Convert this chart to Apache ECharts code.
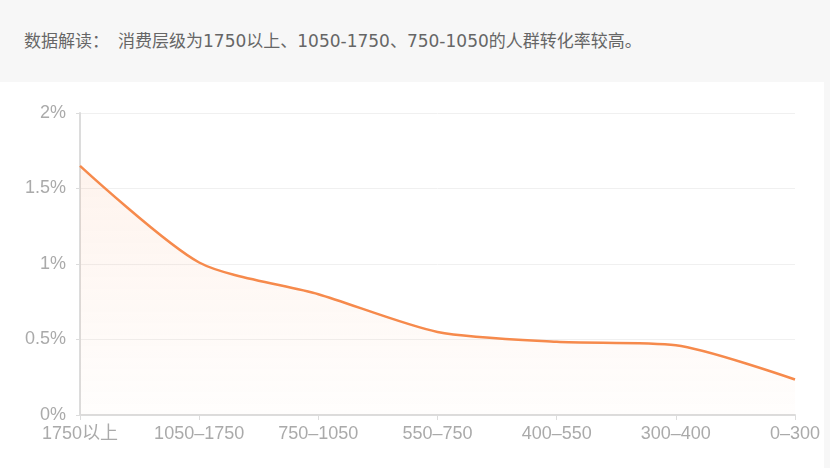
<!DOCTYPE html>
<html>
<head>
<meta charset="utf-8">
<script src="https://cdn.jsdelivr.net/npm/echarts@6/dist/echarts.min.js"></script>
<style>
  html, body { margin: 0; padding: 0; background: #f7f7f7; }
  #note {
    height: 82px;
    line-height: 82px;
    padding-left: 24px;
    font-family: "DejaVu Sans", "Noto Sans CJK SC", sans-serif;
    font-size: 17px;
    color: #666;
    white-space: nowrap;
  }
  #note .label { margin-right: 9px; }
  #chart {
    position: absolute;
    left: 0;
    top: 82px;
    width: 824px;
    height: 386px;
    background: #fff;
  }
</style>
</head>
<body>
<div id="note"><span class="label">数据解读：</span>消费层级为1750以上、1050-1750、750-1050的人群转化率较高。</div>
<div id="chart"></div>
<script>
// 消费层级 (high -> low)
const levels = ["1750以上", "1050–1750", "750–1050", "550–750", "400–550", "300–400", "0–300"];
// 转化率, in %
const rates = [1.65, 1.01, 0.8, 0.55, 0.485, 0.462, 0.235];
const yTicks = [0, 0.5, 1, 1.5, 2];

const labelFont = ["Liberation Sans", "Noto Sans CJK SC", "sans-serif"];

const chart = echarts.init(document.getElementById("chart"));
chart.setOption({
  animation: false,
  grid: { left: 80, right: 29, top: 31, bottom: 53 },
  xAxis: {
    type: "category",
    data: levels,
    boundaryGap: false,
    axisLine: { lineStyle: { color: "#dcdcdc", width: 2 } },
    axisTick: { show: true, length: 5, lineStyle: { color: "#dcdcdc" } },
    axisLabel: {
      color: "#aaa",
      fontSize: 18,
      fontFamily: labelFont.join(","),
      margin: 10,
      interval: 0
    }
  },
  yAxis: {
    type: "value",
    min: yTicks[0],
    max: yTicks[yTicks.length - 1],
    interval: 0.5,
    axisLine: { show: true, lineStyle: { color: "#dcdcdc", width: 2 } },
    axisTick: { show: true, length: 4, lineStyle: { color: "#dcdcdc" } },
    axisLabel: {
      color: "#aaa",
      fontSize: 18,
      fontFamily: labelFont.join(","),
      margin: 14,
      formatter: v => v + "%"
    },
    splitLine: { lineStyle: { color: "#f0f0f0" } }
  },
  series: [{
    type: "line",
    data: rates,
    smooth: 0.25,
    showSymbol: false,
    lineStyle: { color: "#f68a4c", width: 2.5 },
    itemStyle: { color: "#f68a4c" },
    areaStyle: {
      color: new echarts.graphic.LinearGradient(0, 0, 0, 1, [
        { offset: 0, color: "rgba(246,138,76,0.14)" },
        { offset: 1, color: "rgba(246,138,76,0.02)" }
      ])
    }
  }]
});
</script>
</body>
</html>
